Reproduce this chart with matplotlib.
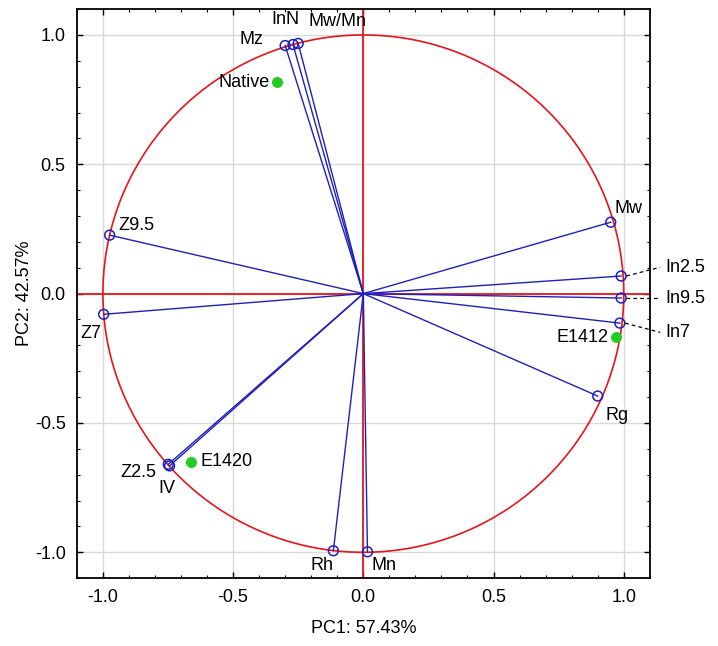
import numpy as np
import matplotlib.pyplot as plt
from matplotlib.ticker import MultipleLocator

plt.rcParams['font.family'] = ['Liberation Sans', 'DejaVu Sans']

# variable loadings (PC1, PC2)
var_names = ["Mz", "InN", "Mw/Mn", "Mw", "In2.5", "In9.5", "In7", "Rg",
             "Mn", "Rh", "Z2.5", "IV", "Z7", "Z9.5"]
var_pc1 = [-0.30, -0.27, -0.25, 0.95, 0.99, 0.99, 0.985, 0.90,
           0.016, -0.115, -0.749, -0.744, -0.997, -0.974]
var_pc2 = [0.959, 0.963, 0.967, 0.276, 0.068, -0.017, -0.114, -0.396,
           -0.998, -0.994, -0.660, -0.666, -0.08, 0.226]

# sample scores (green)
obs_names = ["Native", "E1412", "E1420"]
obs_pc1 = [-0.33, 0.972, -0.66]
obs_pc2 = [0.817, -0.168, -0.65]

BLUE = "#1f1fbf"
RED = "#e8141b"
GREEN = "#22cc22"

fig = plt.figure(figsize=(7.18, 6.46), dpi=100)
ax = fig.add_axes([0.107, 0.105, 0.798, 0.881])

ax.set_xlim(-1.1, 1.1)
ax.set_ylim(-1.1, 1.1)
ax.xaxis.set_minor_locator(MultipleLocator(0.1))
ax.yaxis.set_minor_locator(MultipleLocator(0.1))
ax.set_xticks([-1.0, -0.5, 0.0, 0.5, 1.0])
ax.set_yticks([-1.0, -0.5, 0.0, 0.5, 1.0])
ax.set_xticklabels(["-1.0", "-0.5", "0.0", "0.5", "1.0"])
ax.set_yticklabels(["-1.0", "-0.5", "0.0", "0.5", "1.0"])
ax.tick_params(which="both", direction="in", top=True, right=True,
               labelsize=13, colors="black")
ax.tick_params(which="major", length=4, width=1, pad=8)
ax.tick_params(which="minor", length=2.5, width=0.8)
for sp in ax.spines.values():
    sp.set_linewidth(1.3)
ax.grid(which="major", color="#d9d9d9", lw=1.0, zorder=0)

# unit circle and axes through origin
t = np.linspace(0, 2 * np.pi, 400)
ax.plot(np.cos(t), np.sin(t), color=RED, lw=1.2, zorder=2)
ax.axhline(0, color=RED, lw=1.3, zorder=2)
ax.axvline(0, color=RED, lw=1.3, zorder=2)

# vectors
for x, y in zip(var_pc1, var_pc2):
    ax.plot([0, x], [0, y], color=BLUE, lw=1.0, zorder=3)
ax.scatter(var_pc1, var_pc2, s=50, facecolors="none", edgecolors=BLUE,
           linewidths=1.1, zorder=4)
ax.scatter(obs_pc1, obs_pc2, s=48, color=GREEN, zorder=5)

fs = 13
label_pos = {
    "Mz": (-0.43, 0.982, "center"),
    "InN": (-0.30, 1.058, "center"),
    "Mw/Mn": (-0.10, 1.052, "center"),
    "Mw": (1.02, 0.33, "center"),
    "Rg": (0.975, -0.47, "center"),
    "Mn": (0.03, -1.05, "left"),
    "Rh": (-0.115, -1.05, "right"),
    "Z2.5": (-0.795, -0.69, "right"),
    "IV": (-0.755, -0.755, "center"),
    "Z7": (-1.045, -0.155, "center"),
    "Z9.5": (-0.94, 0.262, "left"),
}
for name, (x, y, ha) in label_pos.items():
    ax.text(x, y, name, ha=ha, va="center", fontsize=fs, zorder=6)

# callout labels outside the frame
callouts = {"In2.5": 0.102, "In9.5": -0.017, "In7": -0.15}
for name, ly in callouts.items():
    i = var_names.index(name)
    ax.plot([var_pc1[i] + 0.02, 1.14], [var_pc2[i], ly], ls=(0, (3, 2.5)),
            color="black", lw=0.9, clip_on=False, zorder=6)
    ax.text(1.16, ly, name, ha="left", va="center", fontsize=fs,
            clip_on=False)

obs_label = {
    "Native": (-0.36, 0.817, "right"),
    "E1412": (0.94, -0.168, "right"),
    "E1420": (-0.625, -0.65, "left"),
}
for name, (x, y, ha) in obs_label.items():
    ax.text(x, y, name, ha=ha, va="center", fontsize=fs, zorder=6)

ax.set_xlabel("PC1: 57.43%", fontsize=13, labelpad=10)
ax.set_ylabel("PC2: 42.57%", fontsize=13, labelpad=1)

fig.savefig("out.png", dpi=100, facecolor="white")
